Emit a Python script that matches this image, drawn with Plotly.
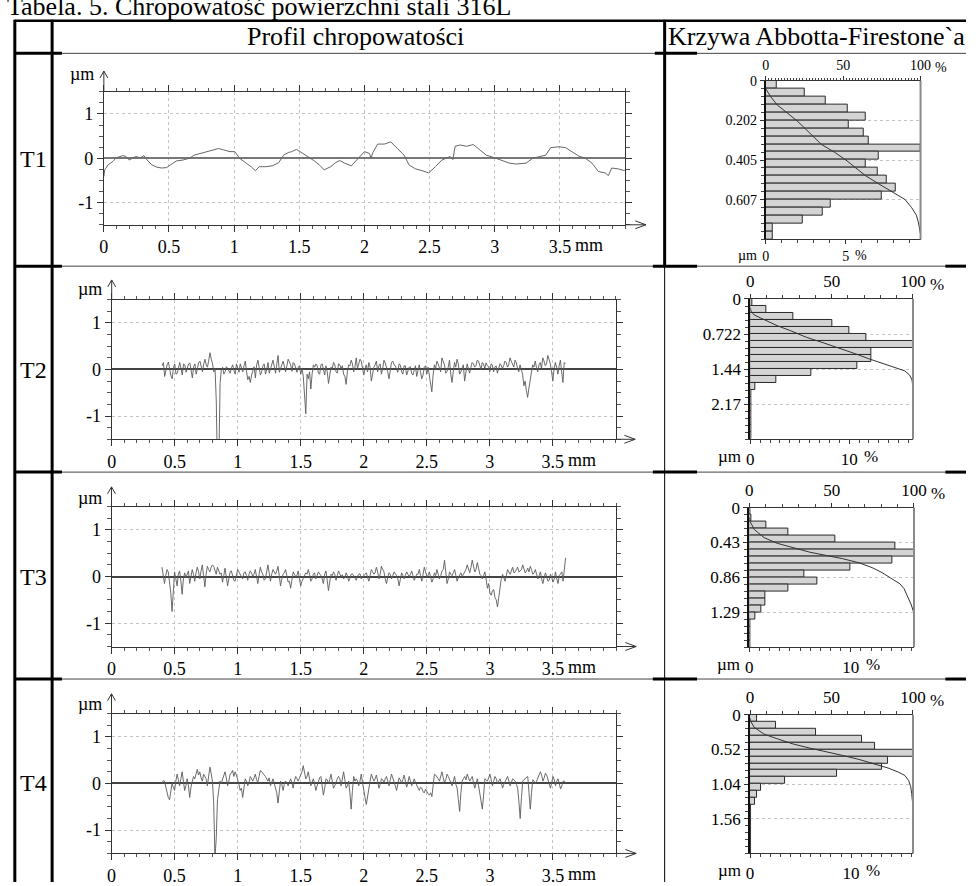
import plotly.graph_objects as go

# ---------------- DATA ----------------
TITLE = "Tabela. 5. Chropowatość powierzchni stali 316L"
HEAD_PROFILE = "Profil chropowatości"
HEAD_ABBOTT = "Krzywa Abbotta-Firestone`a"
ROW_LABELS = ["T1", "T2", "T3", "T4"]

PROFILE_XTICKS = [0, 0.5, 1, 1.5, 2, 2.5, 3, 3.5]
PROFILE_XTICKTEXT = ["0", "0.5", "1", "1.5", "2", "2.5", "3", "3.5"]
PROFILE_YTICKS = [-1, 0, 1]
PROFILE_YTICKTEXT = ["-1", "0", "1"]
PROFILE_XMAX = 4.0

# T1 profile (mm, um)
t1_x = [0.000, 0.007, 0.032, 0.070, 0.095, 0.120, 0.145, 0.170, 0.195, 0.219, 0.244, 0.282, 0.307, 0.332,
        0.369, 0.406, 0.444, 0.481, 0.519, 0.556, 0.606, 0.656, 0.693, 0.743, 0.793, 0.843, 0.880, 0.918,
        0.968, 1.005, 1.042, 1.092, 1.130, 1.162, 1.192, 1.242, 1.292, 1.342, 1.379, 1.416, 1.441, 1.479,
        1.516, 1.566, 1.616, 1.653, 1.691, 1.741, 1.778, 1.810, 1.848, 1.899, 1.937, 2.000, 2.038, 2.051,
        2.063, 2.101, 2.152, 2.202, 2.253, 2.304, 2.342, 2.392, 2.443, 2.493, 2.544, 2.594, 2.658, 2.678,
        2.696, 2.734, 2.784, 2.835, 2.885, 2.936, 2.999, 3.062, 3.113, 3.164, 3.240, 3.290, 3.341, 3.391,
        3.429, 3.493, 3.543, 3.594, 3.644, 3.695, 3.746, 3.796, 3.847, 3.872, 3.897, 3.948, 3.998]
t1_z = [-0.41, -0.26, -0.15, -0.07, 0.01, 0.04, 0.06, 0.04, -0.04, 0.00, 0.04, 0.01, 0.06, -0.04,
        -0.15, -0.20, -0.22, -0.21, -0.13, -0.06, -0.04, 0.00, 0.07, 0.11, 0.16, 0.20, 0.22, 0.19,
        0.15, 0.15, 0.00, -0.11, -0.19, -0.28, -0.19, -0.19, -0.17, -0.10, 0.07, 0.13, 0.15, 0.20,
        0.13, 0.05, -0.06, -0.15, -0.26, -0.19, -0.10, -0.05, -0.11, -0.17, -0.04, 0.15, 0.11, 0.00,
        0.12, 0.32, 0.32, 0.37, 0.22, 0.07, -0.15, -0.24, -0.28, -0.33, -0.19, -0.04, 0.04, -0.03,
        0.27, 0.30, 0.27, 0.31, 0.19, 0.07, 0.01, -0.06, -0.11, -0.13, -0.11, 0.00, 0.04, 0.07,
        0.24, 0.26, 0.24, 0.15, 0.05, 0.00, -0.11, -0.30, -0.33, -0.39, -0.22, -0.24, -0.28]

# T2..T4 profiles: samples at 0.40, 0.42 ... 3.60 mm ("even") and 0.41, 0.43 ... 3.59 mm ("odd"), um
SAMPLE_START = 0.40
SAMPLE_STEP = 0.01
t2_even = [0.08, -0.15, 0.10, -0.05, -0.20, 0.12, -0.08, 0.15, -0.12, 0.10, 0.02, 0.14, -0.18, 0.12, 0.05, 0.18, -0.05, 0.22, 0.05, 0.36, 0.12,
           0.02, -2.40, -0.30, 0.05, -0.05, 0.02, -0.08, 0.10, -0.10, 0.05,
           0.12, -0.05, 0.18, -0.22, -0.28, -0.05, -0.18, 0.20, -0.12, 0.08,
           -0.10, 0.15, 0.02, 0.20, -0.08, 0.30, 0.05, 0.18, -0.05, 0.22, 0.10, 0.15, 0.00, 0.05, -0.10,
           -0.15, -0.95, -0.20, -0.42, 0.10,
           0.12, -0.08, 0.10, -0.02, 0.08, -0.30, 0.05, 0.15, -0.05, 0.12, 0.02, -0.10, -0.32, 0.10, 0.20, -0.05, 0.25, 0.10, 0.18, -0.12,
           0.10, 0.15, -0.25, 0.05, 0.18, 0.08, -0.10, 0.20, 0.05, -0.20, 0.15, 0.10, 0.00, 0.12, -0.05, 0.08, -0.12, 0.05, -0.08, 0.02,
           -0.15, 0.10, -0.20, 0.05, -0.10, -0.15, -0.48, 0.10, 0.18, 0.05,
           0.25, 0.10, -0.05, 0.20, -0.28, 0.15, 0.22, -0.10, 0.05, -0.25, 0.12, -0.08, 0.15, 0.05, 0.20, 0.10, 0.15, 0.02, 0.08, -0.05,
           0.10, 0.05, -0.08, 0.12, 0.02, 0.18, 0.05, 0.25, 0.10, 0.20, 0.02, 0.10, -0.10, -0.25, -0.60,
           -0.20, 0.10, 0.18, -0.05, 0.15, 0.25, 0.08, 0.30, 0.12, -0.25, 0.15, -0.10, 0.20, -0.28, 0.12]
t2_odd = [0.15, -0.02, 0.16, -0.14, 0.04, -0.10, 0.08, 0.02, 0.12, -0.06, 0.12, -0.02, 0.06, -0.10, 0.15, 0.02, 0.12, 0.10, 0.20, 0.22,
          -0.05, -0.70, -2.00, 0.00, -0.10, 0.06, -0.04, 0.04, -0.02, 0.12, -0.06, 0.05, 0.08, -0.05, -0.15, -0.12, 0.06, 0.10, 0.02, -0.05,
          0.12, 0.00, -0.08, 0.10, 0.06, 0.12, -0.06, 0.10, 0.02, 0.08, 0.16, -0.04, 0.12, -0.06, 0.08, 0.02, -0.50, -0.10, -0.05, -0.10,
          0.05, 0.08, -0.10, 0.12, -0.12, -0.05, -0.10, 0.02, 0.10, -0.08, 0.10, 0.08, -0.15, -0.05, 0.08, 0.12, 0.05, 0.02, 0.22, 0.05,
          0.02, -0.05, 0.05, -0.10, 0.10, -0.05, 0.12, 0.02, 0.14, -0.05, 0.02, 0.18, 0.08, -0.06, 0.10, -0.10, 0.08, -0.04, 0.06, -0.12,
          0.08, -0.02, -0.05, -0.12, 0.08, 0.05, -0.30, -0.12, 0.02, 0.12, -0.05, 0.15, -0.08, 0.05, -0.10, -0.05, 0.05, 0.12, -0.05, 0.10,
          -0.08, 0.02, 0.05, 0.12, 0.08, 0.18, 0.00, 0.12, 0.14, 0.06, 0.12, -0.05, 0.08, 0.02, 0.10, 0.08, 0.15, 0.10, 0.18, 0.05,
          0.15, -0.05, 0.02, -0.35, -0.45, -0.40, -0.08, 0.05, 0.05, 0.10, 0.02, 0.18, 0.12, 0.22, -0.05, 0.02, 0.05, 0.08, -0.05, 0.15]
t3_even = [0.20, -0.15, 0.15, -0.10, -0.75, 0.10, -0.20, 0.12, -0.38, 0.08, 0.05, -0.15, 0.15, -0.10, 0.20, -0.05, 0.25, -0.22, 0.22, 0.10, 0.25,
           0.15, 0.20, 0.05, -0.12, 0.18, -0.20, 0.10, 0.02, -0.10, 0.15, 0.05, -0.05, 0.10, -0.08, 0.12, 0.00, 0.15, -0.15, 0.20, 0.05,
           -0.05, 0.25, -0.10, 0.15, 0.05, 0.22, -0.20, 0.05, 0.15, -0.12, -0.25, 0.10, 0.00, 0.12, -0.20, -0.05, 0.08, 0.15, -0.10, 0.05,
           -0.05, 0.10, 0.02, -0.15, 0.12, -0.30, 0.05, 0.10, -0.08, 0.12, 0.00, -0.05, 0.08, -0.10, 0.05, 0.02, -0.08, 0.05, -0.05, 0.03,
           0.08, -0.10, 0.15, 0.05, 0.20, -0.05, 0.22, 0.10, -0.15, 0.08, -0.05, 0.10, 0.02, -0.20, 0.08, -0.05, 0.10, 0.00, 0.12, -0.08,
           0.05, 0.15, -0.10, 0.20, 0.00, 0.10, -0.12, 0.08, 0.15, -0.05, 0.12, 0.35, -0.15, 0.10, 0.02, 0.15, -0.10, 0.05, 0.00, 0.10,
           0.25, 0.08, 0.35, 0.10, 0.30, 0.05, -0.05, 0.10, -0.25, -0.35, -0.30, -0.45, -0.65, -0.20, 0.05, -0.10, 0.15, 0.05, 0.20, 0.10,
           0.20, 0.12, 0.25, 0.08, 0.18, 0.22, 0.05, 0.15, -0.05, 0.10, -0.15, 0.08, -0.10, 0.05, -0.12, 0.10, -0.15, 0.05, -0.10, 0.40]
t3_odd = [0.05, 0.02, 0.10, -0.35, -0.40, -0.05, 0.05, -0.10, -0.05, -0.02, 0.12, 0.02, 0.05, 0.08, 0.10, 0.12, 0.02, 0.05, 0.15, 0.20,
          0.22, 0.05, 0.12, 0.08, 0.02, 0.00, -0.05, 0.12, -0.08, 0.05, 0.10, -0.02, 0.08, 0.02, 0.05, 0.08, 0.05, 0.00, 0.05, 0.10,
          -0.08, 0.10, 0.08, 0.05, 0.10, 0.12, 0.02, -0.05, 0.08, 0.02, -0.10, -0.08, 0.05, 0.02, -0.05, -0.10, 0.02, 0.05, 0.05, -0.05,
          0.08, 0.02, 0.06, -0.05, 0.05, -0.08, -0.12, 0.02, 0.05, 0.02, 0.06, 0.04, -0.02, 0.02, -0.04, 0.06, -0.02, 0.00, 0.06, -0.02,
          0.05, 0.00, 0.02, 0.10, 0.08, 0.10, 0.05, 0.15, -0.05, -0.02, 0.05, 0.02, 0.06, -0.05, -0.06, 0.02, 0.03, 0.05, 0.05, 0.02,
          -0.02, 0.05, 0.02, 0.05, 0.10, 0.02, -0.02, -0.05, 0.02, 0.05, 0.02, 0.15, 0.10, -0.05, 0.05, 0.08, 0.02, -0.02, 0.08, 0.05,
          0.15, 0.15, 0.20, 0.22, 0.15, 0.18, 0.02, 0.02, -0.05, -0.15, -0.40, -0.28, -0.50, -0.45, -0.05, -0.02, 0.02, 0.10, 0.12, 0.08,
          0.15, 0.10, 0.15, 0.18, 0.12, 0.10, 0.15, 0.08, 0.05, 0.02, -0.05, -0.02, 0.00, -0.08, -0.02, -0.05, -0.05, 0.02, 0.10, 0.15]
t4_even = [0.00, 0.05, -0.20, -0.35, 0.00, -0.15, 0.20, -0.05, 0.25, -0.15, 0.10, -0.30, 0.05, 0.10, 0.30, 0.25, 0.05, 0.15, -0.05, 0.35, 0.05,
           -1.60, -0.35, 0.05, 0.10, 0.25, -0.05, 0.20, 0.28, 0.25, 0.10, -0.15, -0.30, 0.10, -0.05, 0.15, 0.05, 0.20, 0.02, 0.28, 0.22,
           0.15, 0.05, -0.05, 0.10, -0.10, -0.42, 0.05, -0.15, 0.05, -0.05, 0.10, -0.10, 0.15, 0.05, 0.20, 0.38, 0.10, 0.25, -0.05, 0.10,
           -0.15, 0.05, 0.15, -0.25, 0.10, 0.00, 0.20, -0.10, 0.05, 0.15, -0.05, 0.25, -0.10, 0.05, -0.55, 0.15, 0.10, -0.05, 0.20, -0.20,
           -0.45, -0.10, 0.20, 0.05, 0.18, -0.10, 0.10, 0.02, 0.15, -0.05, 0.20, 0.05, -0.15, 0.12, 0.00, 0.18, -0.08, 0.15, -0.05, 0.10,
           -0.05, -0.15, -0.10, -0.20, -0.18, -0.25, -0.28, 0.20, 0.15, 0.05, 0.25, 0.02, 0.20, 0.10, -0.05, 0.15, -0.10, -0.60, 0.05, 0.15,
           0.20, 0.05, 0.15, -0.10, 0.10, -0.20, -0.55, 0.10, 0.05, 0.20, -0.05, 0.15, 0.00, 0.10, -0.10, 0.05, 0.15, -0.05, 0.10, 0.05,
           -0.10, -0.75, 0.05, 0.10, 0.15, -0.55, 0.08, 0.00, 0.12, 0.25, 0.05, 0.22, 0.10, -0.10, 0.15, -0.05, 0.10, -0.12, 0.05, 0.00]
t4_odd = [0.06, -0.08, -0.30, -0.15, -0.08, 0.05, 0.08, 0.10, 0.05, -0.05, -0.05, -0.08, 0.15, 0.20, 0.18, 0.12, 0.20, 0.10, 0.15, 0.22,
          -0.40, -1.20, -0.15, 0.00, 0.18, 0.12, 0.05, 0.22, 0.15, 0.18, -0.02, -0.10, -0.10, 0.05, 0.02, 0.10, 0.12, 0.08, 0.15, 0.25,
          0.18, 0.10, 0.12, 0.02, 0.00, -0.20, -0.15, -0.02, -0.02, 0.02, 0.02, 0.02, 0.05, 0.10, 0.12, 0.25, 0.20, 0.15, 0.10, 0.02,
          0.00, -0.05, 0.12, -0.05, -0.10, 0.08, 0.08, 0.05, -0.05, 0.10, 0.10, 0.10, 0.08, -0.05, -0.20, -0.15, 0.05, 0.05, 0.05, 0.02,
          -0.30, -0.25, 0.05, 0.12, 0.10, 0.05, -0.02, 0.08, 0.10, 0.05, 0.08, 0.12, -0.05, -0.02, 0.08, 0.08, 0.05, 0.02, 0.05, 0.02,
          0.02, -0.10, -0.08, -0.18, -0.12, -0.22, -0.20, -0.05, 0.18, 0.10, 0.15, 0.12, 0.08, 0.15, 0.02, 0.05, -0.02, -0.35, -0.20, 0.10,
          0.08, 0.12, 0.10, 0.02, 0.00, -0.05, -0.35, -0.25, 0.08, 0.12, 0.08, 0.05, 0.10, 0.05, 0.02, -0.02, 0.10, 0.05, 0.02, 0.08,
          -0.02, -0.40, -0.30, 0.08, 0.12, -0.20, -0.20, 0.05, 0.05, 0.15, 0.18, 0.12, 0.18, 0.02, 0.02, 0.08, 0.05, 0.00, -0.05, 0.05]

# Abbott-Firestone panels
PT = [0.81, 2.888, 1.72, 2.08]                  # total depth (um), 20 histogram classes
DEPTH_TICKTEXT = [["0", "0.202", "0.405", "0.607"],
                  ["0", "0.722", "1.44", "2.17"],
                  ["0", "0.43", "0.86", "1.29"],
                  ["0", "0.52", "1.04", "1.56"]]
HIST_LABEL_TICK = [5, 10, 10, 10]               # labelled % on bottom axis
RATIO_TICKS = [0, 50, 100]
RATIO_TICKTEXT = ["0", "50", "100"]

t1_hist = [0.70, 2.42, 3.73, 5.12, 6.23, 5.18, 6.11, 6.45, 9.69, 7.09, 6.29, 7.01, 7.56, 8.11, 7.25, 4.06, 3.59, 2.30, 0.43, 0.43]
t2_hist = [0.20, 1.62, 4.37, 8.25, 10.03, 11.72, 16.46, 12.22, 12.22, 10.79, 6.16, 2.62, 0.46, 0.07, 0.07, 0.07, 0.07, 0.07, 0.07, 0.07]
t3_hist = [0.06, 0.19, 1.71, 3.84, 8.52, 14.39, 16.23, 14.13, 9.97, 5.42, 6.71, 3.84, 1.61, 1.61, 1.16, 0.58, 0.06, 0.06, 0.06, 0.06]
t4_hist = [0.71, 2.62, 6.57, 11.10, 12.39, 16.12, 13.62, 13.04, 8.61, 3.43, 1.10, 0.71, 0.52, 0.10, 0.10, 0.10, 0.10, 0.10, 0.10, 0.10]

t1_ratio = [0, 3.2, 7.4, 13.7, 20.1, 25.4, 30.7, 35.9, 44.4, 51.8, 58.1, 64.5, 72.9, 81.4, 85.6, 89.9, 94.1, 97.3, 98.7, 99.4, 100, 100]
t1_depth = [0.042, 0.082, 0.124, 0.164, 0.204, 0.244, 0.285, 0.325, 0.365, 0.405, 0.445, 0.485, 0.526, 0.566, 0.589, 0.606, 0.646, 0.686, 0.726, 0.757, 0.785, 0.81]
t2_ratio = [0, 0.4, 2.4, 8.5, 16.5, 24.5, 34.6, 44.7, 54.7, 64.8, 72.8, 80.9, 88.9, 95.0, 98.0, 99.4, 100]
t2_depth = [0.18, 0.25, 0.33, 0.43, 0.55, 0.65, 0.79, 0.90, 1.01, 1.13, 1.23, 1.32, 1.40, 1.48, 1.57, 1.67, 1.82]
t3_ratio = [0, 0.4, 3.0, 8.9, 16.9, 26.8, 36.8, 46.7, 56.7, 66.6, 74.6, 80.5, 86.5, 91.5, 94.0, 96.4, 98.4, 99.8, 100]
t3_depth = [0.12, 0.17, 0.27, 0.37, 0.44, 0.49, 0.55, 0.59, 0.63, 0.68, 0.74, 0.80, 0.88, 0.94, 1.00, 1.10, 1.20, 1.29, 1.31]
t4_ratio = [0, 0.2, 2.6, 8.6, 16.7, 26.7, 36.7, 46.8, 56.8, 66.9, 76.9, 84.9, 91.0, 95.0, 97.4, 98.6, 99.2, 99.6, 100]
t4_depth = [0.05, 0.09, 0.19, 0.29, 0.36, 0.44, 0.50, 0.55, 0.61, 0.67, 0.74, 0.80, 0.86, 0.91, 0.99, 1.08, 1.18, 1.28, 1.38]

# ---------------- LAYOUT (pixel geometry) ----------------
W, H = 979, 886
FONT = "Liberation Serif, Times New Roman, serif"

TABLE_TOP = 12
HEAD_SEP = 45
ROW_SEPS = [261, 470, 680]
PROF_BOX = [(100.7, 631.7, 84, 219), (108.7, 622.3, 295, 436.7),
            (108.5, 622.5, 505, 647), (108.5, 622.5, 715, 857)]
PROF_ARROW = [(63, 653), (275, 642), (485, 643), (695, 643)]   # y-tip, x-tip
PROF_UNIT_DY = [18, 11, 9, 10]
ZERO_COLOR = ["#777", "#444", "#444", "#444"]
ABB_BOX = [(775, 932.7, 72.7, 233.9), (759.3, 925, 294.3, 436.7),
           (758.3, 926, 506, 647.7), (759, 925, 716.3, 857)]
ABB_FS = [14, 17, 17, 17]
ROW_Y = [152, 366, 576, 786]
PFS = 18


def xd(a, b):
    return [a / W, b / W]


def yd(t, b):
    return [1 - b / H, 1 - t / H]


def PX(x):
    return x / W


def PY(y):
    return 1 - y / H


shapes = []
annotations = []


def seg(x0, y0, x1, y1, w=1, color="black"):
    shapes.append(dict(type="line", xref="paper", yref="paper",
                       x0=PX(x0), y0=PY(y0), x1=PX(x1), y1=PY(y1),
                       line=dict(color=color, width=w)))


def text(x, y, s, size, xanchor="center", yanchor="middle"):
    annotations.append(dict(xref="paper", yref="paper", x=PX(x), y=PY(y), text=s,
                            showarrow=False, xanchor=xanchor, yanchor=yanchor,
                            font=dict(family=FONT, size=size, color="black")))


def merge(even, odd):
    out = []
    for j, v in enumerate(even):
        out.append(v)
        if j < len(odd):
            out.append(odd[j])
    return out


fig = go.Figure()
layout = {}

profiles = [(t1_x, t1_z)]
for ev, od in ((t2_even, t2_odd), (t3_even, t3_odd), (t4_even, t4_odd)):
    z = merge(ev, od)
    profiles.append(([SAMPLE_START + SAMPLE_STEP * i for i in range(len(z))], z))

for i, (xs, zs) in enumerate(profiles):
    k = i + 1
    xl, xr, yt, yb = PROF_BOX[i]
    tf = dict(family=FONT, size=PFS, color="black")
    layout[f"xaxis{k}"] = dict(
        domain=xd(xl, xr), anchor=f"y{k}", range=[0, PROFILE_XMAX],
        tickmode="array", tickvals=PROFILE_XTICKS, ticktext=PROFILE_XTICKTEXT,
        ticks="outside", ticklen=6, tickwidth=1, tickcolor="#333",
        minor=dict(tickmode="linear", tick0=0, dtick=0.1, ticks="outside", ticklen=3, tickcolor="#555", showgrid=False),
        showline=True, linecolor="#333", linewidth=1, mirror="ticks",
        showgrid=True, gridcolor="#c4c4c4", griddash="dot", gridwidth=1,
        zeroline=False, tickfont=tf, fixedrange=True)
    layout[f"yaxis{k}"] = dict(
        domain=yd(yt, yb), anchor=f"x{k}", range=[-1.5, 1.5],
        tickmode="array", tickvals=PROFILE_YTICKS, ticktext=PROFILE_YTICKTEXT,
        ticks="outside", ticklen=6, tickwidth=1, tickcolor="#333",
        minor=dict(tickmode="linear", tick0=0, dtick=0.25, ticks="outside", ticklen=4, tickcolor="#555", showgrid=False),
        showline=True, linecolor="#333", linewidth=1, mirror="ticks",
        showgrid=True, gridcolor="#c4c4c4", griddash="dot", gridwidth=1,
        zeroline=True, zerolinecolor=ZERO_COLOR[i], zerolinewidth=1.5,
        tickfont=tf, fixedrange=True)
    fig.add_trace(go.Scatter(x=xs, y=zs, mode="lines",
                             line=dict(color=("#666" if i == 0 else "#5a5a5a"), width=(1 if i == 0 else 0.9)),
                             xaxis=f"x{k}", yaxis=f"y{k}", hoverinfo="skip"))
    # axis arrows
    ytip, xtip = PROF_ARROW[i]
    seg(xl, yt, xl, ytip, 1, "#333")
    seg(xl - 4, ytip + 7, xl, ytip, 1, "#333")
    seg(xl + 4, ytip + 7, xl, ytip, 1, "#333")
    seg(xr, yb, xtip, yb, 1, "#333")
    seg(xtip - 11, yb - 4, xtip, yb, 1, "#333")
    seg(xtip - 11, yb + 4, xtip, yb, 1, "#333")
    text(xl - 22, yt - PROF_UNIT_DY[i], "µm", PFS)
    annotations.append(dict(xref=f"x{k}", yref="paper", x=3.5, y=PY(yb + 21), xshift=13,
                            text="mm", showarrow=False, xanchor="left", yanchor="middle",
                            font=dict(family=FONT, size=PFS, color="black")))
    text(29, ROW_Y[i], ROW_LABELS[i], 24)

hists = [t1_hist, t2_hist, t3_hist, t4_hist]
curves = [(t1_ratio, t1_depth), (t2_ratio, t2_depth), (t3_ratio, t3_depth), (t4_ratio, t4_depth)]
for i in range(4):
    hx, cx, ya = 5 + i, 9 + i, 5 + i
    al, ar, at, ab = ABB_BOX[i]
    fs = ABB_FS[i]
    tf = dict(family=FONT, size=fs, color="black")
    pt = PT[i]
    nb = len(hists[i])
    bw = pt / nb
    layout[f"xaxis{hx}"] = dict(
        domain=xd(al, ar), anchor=f"y{ya}", range=[0, max(hists[i])],
        tickmode="array", tickvals=[0, HIST_LABEL_TICK[i]], ticktext=["0", str(HIST_LABEL_TICK[i])],
        ticks="outside", ticklen=4, tickcolor="#333",
        minor=dict(tickmode="linear", tick0=0, dtick=1, ticks="outside", ticklen=3, tickcolor="#444"),
        showline=True, linecolor="#333", linewidth=1, showgrid=False, zeroline=False,
        tickfont=tf, fixedrange=True)
    layout[f"xaxis{cx}"] = dict(
        overlaying=f"x{hx}", side="top", anchor=f"y{ya}", range=[0, 100],
        tickmode="array", tickvals=RATIO_TICKS, ticktext=RATIO_TICKTEXT,
        ticks="outside", ticklen=4, tickcolor="#333",
        minor=dict(tickmode="linear", tick0=0, dtick=(2 if i == 0 else 10), ticks="outside",
                   ticklen=(2 if i == 0 else 3), tickcolor="#444"),
        showline=True, linecolor="#333", linewidth=1, showgrid=False, zeroline=False,
        tickfont=tf, fixedrange=True)
    layout[f"yaxis{ya}"] = dict(
        domain=yd(at, ab), anchor=f"x{hx}", range=[pt, 0],
        tickmode="array", tickvals=[0, pt / 4, pt / 2, 3 * pt / 4], ticktext=DEPTH_TICKTEXT[i],
        ticks="outside", ticklen=4, tickcolor="#333",
        minor=dict(tickmode="linear", tick0=0, dtick=bw, ticks="outside", ticklen=3, tickcolor="#444"),
        showline=True, linecolor="#111", linewidth=2, showgrid=True, gridcolor="#c4c4c4",
        griddash="dot", gridwidth=1, zeroline=False, tickfont=tf, fixedrange=True)
    fig.add_trace(go.Bar(orientation="h", x=hists[i], y=[bw * (j + 0.5) for j in range(nb)],
                         width=[bw] * nb, marker=dict(color="#d4d4d4", line=dict(color="#2a2a2a", width=1)),
                         xaxis=f"x{hx}", yaxis=f"y{ya}", hoverinfo="skip"))
    rx, ry = curves[i]
    fig.add_trace(go.Scatter(x=rx, y=ry, mode="lines", line=dict(color="#333", width=1),
                             xaxis=f"x{cx}", yaxis=f"y{ya}", hoverinfo="skip"))
    seg(ar, at, ar, ab, 2, "#8a8a8a")
    # unit labels
    top_lab_y = at - 4 - 3 - fs / 2
    bot_lab_y = ab + 4 + 5 + fs / 2
    annotations.append(dict(xref=f"x{cx}", yref="paper", x=100, y=PY(top_lab_y + 1), xshift=fs * 0.78 + 2,
                            text="%", showarrow=False, xanchor="left", yanchor="middle", font=tf))
    annotations.append(dict(xref=f"x{hx}", yref="paper", x=HIST_LABEL_TICK[i], y=PY(bot_lab_y),
                            xshift=fs * 0.25 * len(str(HIST_LABEL_TICK[i])) + fs * 0.25,
                            text="%", showarrow=False, xanchor="left", yanchor="middle", font=tf))
    text(al - 7, bot_lab_y, "µm", fs, xanchor="right")

# ---------------- table ----------------
text(0, -3, TITLE, 26, xanchor="left")
text(357, 28, HEAD_PROFILE, 26)
text(673, 28, HEAD_ABBOTT, 26, xanchor="left")

seg(10, TABLE_TOP, 979, TABLE_TOP, 2.5)
seg(10, HEAD_SEP, 979, HEAD_SEP, 1, "#444")
seg(10, HEAD_SEP, 58, HEAD_SEP, 3)
seg(662, HEAD_SEP, 705, HEAD_SEP, 3)
for ysep in ROW_SEPS:
    seg(10, ysep, 979, ysep, 1, "#444")
    seg(10, ysep, 58, ysep, 3)
    seg(660, ysep, 705, ysep, 3)
    seg(958, ysep, 979, ysep, 3)
seg(10, TABLE_TOP - 1, 10, 886, 3)
seg(48, TABLE_TOP - 1, 48, 886, 3)
seg(672, TABLE_TOP - 1, 672, ROW_SEPS[0], 3)
seg(672, ROW_SEPS[0], 672, 886, 1)

layout.update(dict(width=W, height=H, autosize=False,
                   margin=dict(l=0, r=0, t=0, b=0, pad=0),
                   paper_bgcolor="white", plot_bgcolor="white",
                   showlegend=False, hovermode=False,
                   font=dict(family=FONT, color="black"),
                   shapes=shapes, annotations=annotations, bargap=0))
fig.update_layout(**layout)
fig.write_html("out.html", config={"displayModeBar": False},
               post_script="document.body.style.margin='0';document.body.style.padding='0';"
                           "document.body.style.overflow='hidden';")
